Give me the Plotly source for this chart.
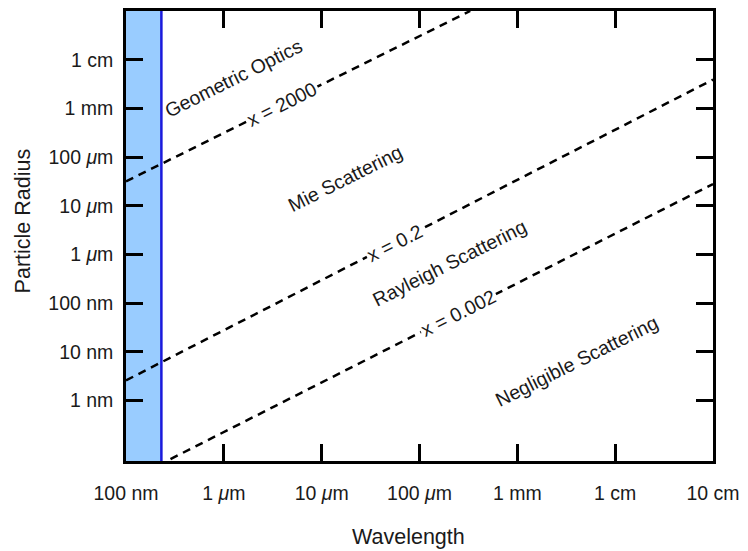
import numpy as np
import plotly.graph_objects as go

# ---- data (metres) ----
x_tick_vals = [1e-7, 1e-6, 1e-5, 1e-4, 1e-3, 1e-2, 1e-1]
x_tick_text = ["100 nm", "1 <i>μ</i>m", "10 <i>μ</i>m", "100 <i>μ</i>m", "1 mm", "1 cm", "10 cm"]
y_tick_vals = [1e-9, 1e-8, 1e-7, 1e-6, 1e-5, 1e-4, 1e-3, 1e-2]
y_tick_text = ["1 nm", "10 nm", "100 nm", "1 <i>μ</i>m", "10 <i>μ</i>m", "100 <i>μ</i>m", "1 mm", "1 cm"]

x_range_m = [1e-7, 1e-1]
y_range_m = [10 ** -10.24, 1e-1]

uv_cutoff_wavelength = 2.3e-7

boundary_labels = ["x = 2000", "x = 0.2", "x = 0.002"]
boundary_wl_start = [1.0e-7, 1.0e-7, 2.85e-7]
boundary_r_start = [3.17e-5, 2.6e-9, 6.3e-11]
boundary_wl_end = [3.3e-4, 1.0e-1, 1.0e-1]
boundary_r_end = [1.0e-1, 3.9e-3, 2.8e-5]
boundary_label_wl = [3.95e-6, 5.56e-5, 2.49e-4]

region_labels = ["Geometric Optics", "Mie Scattering", "Rayleigh Scattering", "Negligible Scattering"]
region_wl = [1.26e-6, 1.77e-5, 2.01e-4, 4.03e-3]
region_r = [4.23e-3, 3.65e-5, 6.70e-7, 6.65e-9]

FONT = "Liberation Sans, Arial, sans-serif"
TXT = "#1a1a1a"

fig = go.Figure()

# blue band (UV region)
fig.add_trace(go.Scatter(
    x=[x_range_m[0], uv_cutoff_wavelength, uv_cutoff_wavelength, x_range_m[0], x_range_m[0]],
    y=[y_range_m[0] / 10, y_range_m[0] / 10, y_range_m[1] * 10, y_range_m[1] * 10, y_range_m[0] / 10],
    mode="lines", fill="toself", fillcolor="#99ccff", line=dict(width=0),
    hoverinfo="skip", showlegend=False))
fig.add_trace(go.Scatter(
    x=[uv_cutoff_wavelength, uv_cutoff_wavelength],
    y=[y_range_m[0] / 10, y_range_m[1] * 10],
    mode="lines", line=dict(color="#1a1adc", width=2.5),
    hoverinfo="skip", showlegend=False))

# size-parameter boundary lines
for i in range(len(boundary_labels)):
    fig.add_trace(go.Scatter(
        x=[boundary_wl_start[i], boundary_wl_end[i]],
        y=[boundary_r_start[i], boundary_r_end[i]],
        mode="lines", line=dict(color="black", width=2.5, dash="8px,6px"),
        hoverinfo="skip", showlegend=False))

annotations = []
angle = -26.6
for i, lab in enumerate(boundary_labels):
    lx0, lx1 = np.log10(boundary_wl_start[i]), np.log10(boundary_wl_end[i])
    ly0, ly1 = np.log10(boundary_r_start[i]), np.log10(boundary_r_end[i])
    lx = np.log10(boundary_label_wl[i])
    ly = ly0 + (ly1 - ly0) * (lx - lx0) / (lx1 - lx0)
    annotations.append(dict(x=lx, y=ly, xref="x", yref="y", text=lab, showarrow=False,
                            textangle=angle, bgcolor="white", borderpad=1,
                            font=dict(family=FONT, size=19.5, color=TXT)))
for lab, wx, ry in zip(region_labels, region_wl, region_r):
    annotations.append(dict(x=np.log10(wx), y=np.log10(ry), xref="x", yref="y", text=lab,
                            showarrow=False, textangle=angle,
                            font=dict(family=FONT, size=19.5, color=TXT)))

annotations.append(dict(x=0.481, y=-0.168, xref="paper", yref="paper", text="Wavelength",
                        showarrow=False, xanchor="center", yanchor="middle",
                        font=dict(family=FONT, size=21.5, color=TXT)))
annotations.append(dict(x=-0.176, y=0.534, xref="paper", yref="paper", text="Particle Radius",
                        showarrow=False, xanchor="center", yanchor="middle", textangle=-90,
                        font=dict(family=FONT, size=21.5, color=TXT)))

axis_common = dict(type="log", ticks="inside", ticklen=17, tickwidth=2.5, tickcolor="black",
                   showline=True, linewidth=2.5, linecolor="black", mirror="ticks",
                   showgrid=False, zeroline=False,
                   tickfont=dict(family=FONT, size=19.5, color=TXT))

fig.update_layout(
    width=748, height=551,
    margin=dict(l=126, r=32, t=8, b=90),
    paper_bgcolor="white", plot_bgcolor="white",
    xaxis=dict(range=[np.log10(x_range_m[0]), np.log10(x_range_m[1])],
               tickvals=x_tick_vals, ticktext=x_tick_text, ticklabelstandoff=13, **axis_common),
    yaxis=dict(range=[np.log10(y_range_m[0]), np.log10(y_range_m[1])],
               tickvals=y_tick_vals, ticktext=y_tick_text, ticklabelstandoff=6, **axis_common),
    annotations=annotations,
    showlegend=False,
)

fig.write_html("out.html")
